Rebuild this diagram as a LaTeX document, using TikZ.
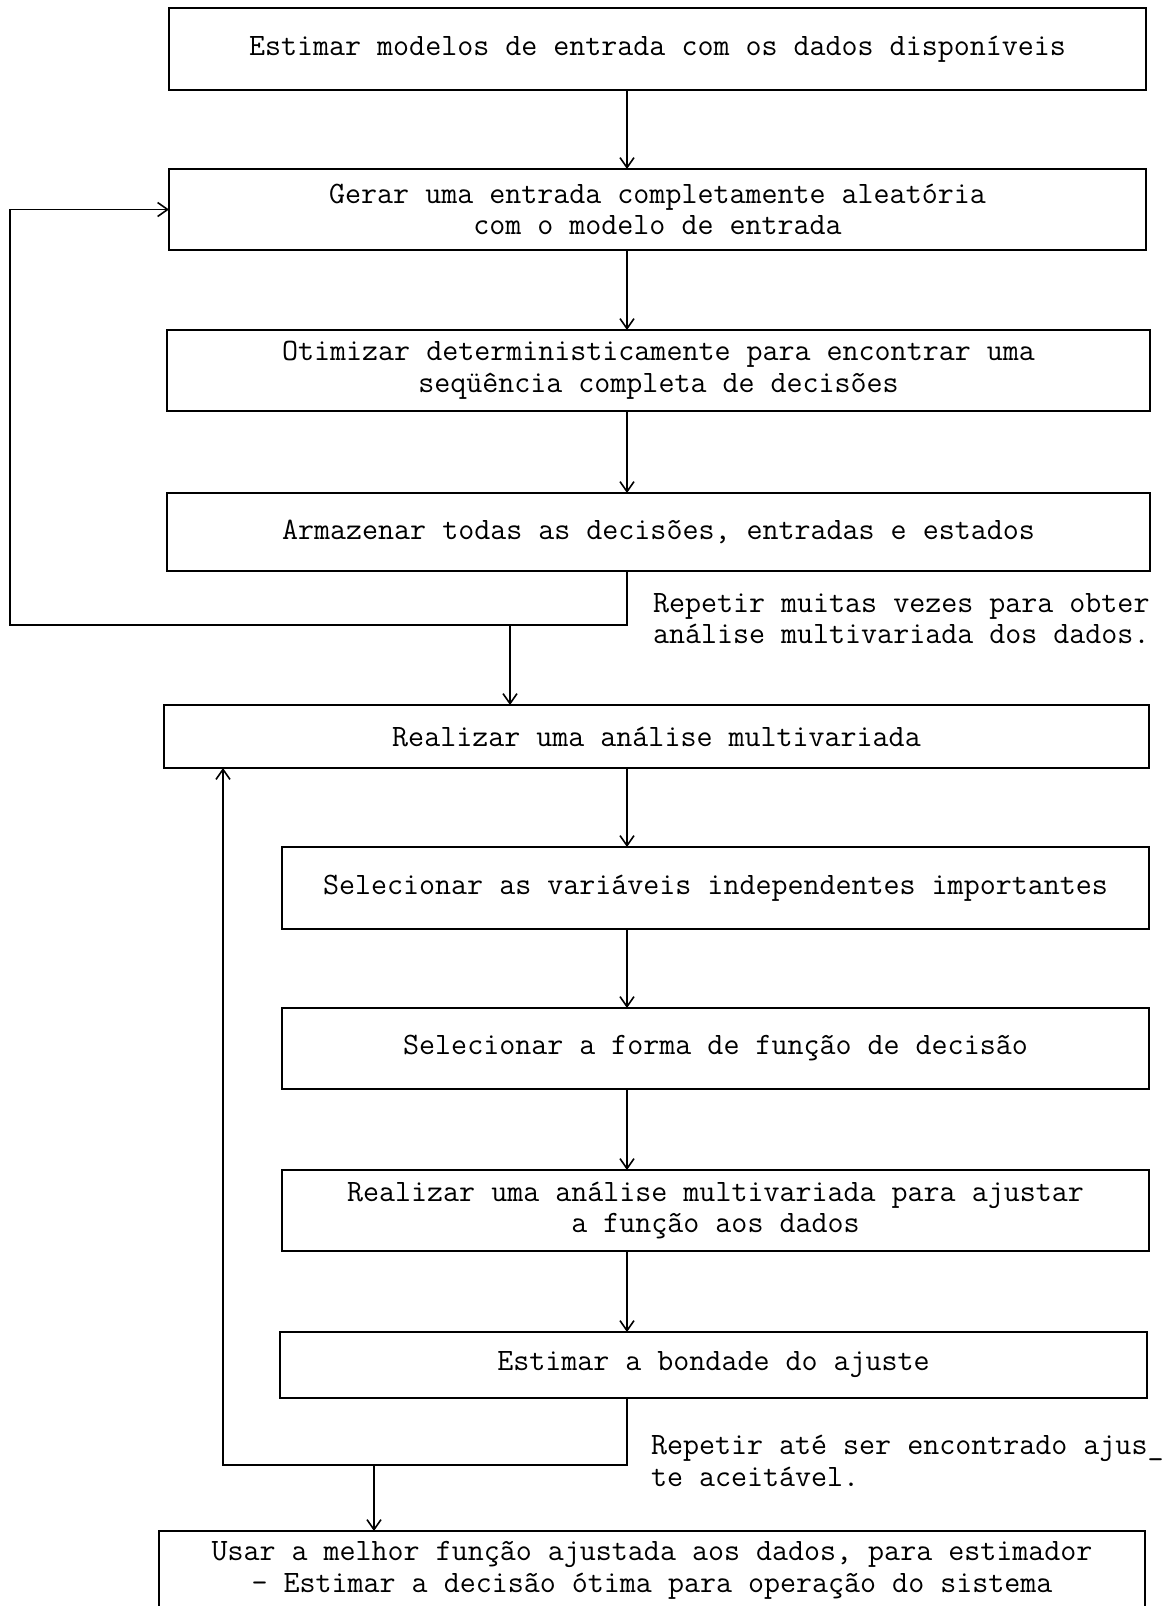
\documentclass[tikz,border=0pt]{standalone}
\usepackage{fontspec}
\usetikzlibrary{arrows.meta,calc}

\tikzset{
  flowbox/.style={draw, line width=0.9pt, inner sep=0pt, outer sep=0pt,
    align=center, font=\ttfamily\fontsize{15.55}{15.9}\selectfont},
  note/.style={inner sep=0pt, outer sep=0pt, align=left, anchor=west,
    font=\ttfamily\fontsize{15.55}{15.9}\selectfont},
  link/.style={line width=0.9pt},
  arr/.style={link, -{Straight Barb[length=5pt,width=7pt,line width=0.8pt]}},
}

\begin{document}
\begin{tikzpicture}[x=0.5pt,y=-0.5pt]
  \clip (0,0) rectangle (1165,1606);
  \fill[white] (0,0) rectangle (1165,1606);

  % first loop: generation and deterministic optimisation
  \node[flowbox, minimum width=488.5pt, minimum height=41pt] (b1) at (657.5,49)
    {Estimar modelos de entrada com os dados disponíveis};
  \node[flowbox, minimum width=488.5pt, minimum height=40.5pt] (b2) at (657.5,209.5)
    {Gerar uma entrada completamente aleatória\\com o modelo de entrada};
  \node[flowbox, minimum width=491.5pt, minimum height=40.5pt] (b3) at (658.5,370.5)
    {Otimizar deterministicamente para encontrar uma\\seqüência completa de decisões};
  \node[flowbox, minimum width=491.5pt, minimum height=39pt] (b4) at (658.5,532)
    {Armazenar todas as decisões, entradas e estados};

  % second loop: fitting the decision function
  \node[flowbox, minimum width=492.5pt, minimum height=31.5pt] (b5) at (656.5,736.5)
    {Realizar uma análise multivariada};
  \node[flowbox, minimum width=433.5pt, minimum height=41pt] (b6) at (715.5,888)
    {Selecionar as variáveis independentes importantes};
  \node[flowbox, minimum width=433.5pt, minimum height=40.5pt] (b7) at (715.5,1048.5)
    {Selecionar a forma de função de decisão};
  \node[flowbox, minimum width=433.5pt, minimum height=40.5pt] (b8) at (715.5,1210.5)
    {Realizar uma análise multivariada para ajustar\\a função aos dados};
  \node[flowbox, minimum width=433.5pt, minimum height=33pt] (b9) at (713.5,1365)
    {Estimar a bondade do ajuste};
  \node[flowbox, minimum width=493pt, minimum height=39.5pt] (b10) at (652,1570.5)
    {Usar a melhor função ajustada aos dados, para estimador\\- Estimar a decisão ótima para operação do sistema};

  % notes beside the loops
  \node[note] (n1) at (653,618.5)
    {Repetir muitas vezes para obter\\análise multivariada dos dados.};
  \node[note] (n2) at (651,1461)
    {Repetir até ser encontrado ajus\_\\te aceitável.};

  % routing points
  \coordinate (spine) at (627,0);
  \coordinate (j1) at (627,625);
  \coordinate (l1) at (10,625);
  \coordinate (t1) at (510,625);
  \coordinate (j2) at (627,1465);
  \coordinate (l2) at (223,1465);
  \coordinate (t2) at (374,1465);

  % main flow
  \draw[arr] (b1.south -| spine) -- (b2.north -| spine);
  \draw[arr] (b2.south -| spine) -- (b3.north -| spine);
  \draw[arr] (b3.south -| spine) -- (b4.north -| spine);
  \draw[arr] (b5.south -| spine) -- (b6.north -| spine);
  \draw[arr] (b6.south -| spine) -- (b7.north -| spine);
  \draw[arr] (b7.south -| spine) -- (b8.north -| spine);
  \draw[arr] (b8.south -| spine) -- (b9.north -| spine);

  % loop back to generation, and exit to the analysis
  \draw[arr] (b4.south -| spine) -- (j1) -- (l1) |- (b2.west);
  \draw[arr] (t1) -- (t1 |- b5.north);

  % loop back to the analysis, and exit to the final step
  \draw[arr] (b9.south -| spine) -- (j2) -- (l2) -- (l2 |- b5.south);
  \draw[arr] (t2) -- (t2 |- b10.north);
\end{tikzpicture}
\end{document}
